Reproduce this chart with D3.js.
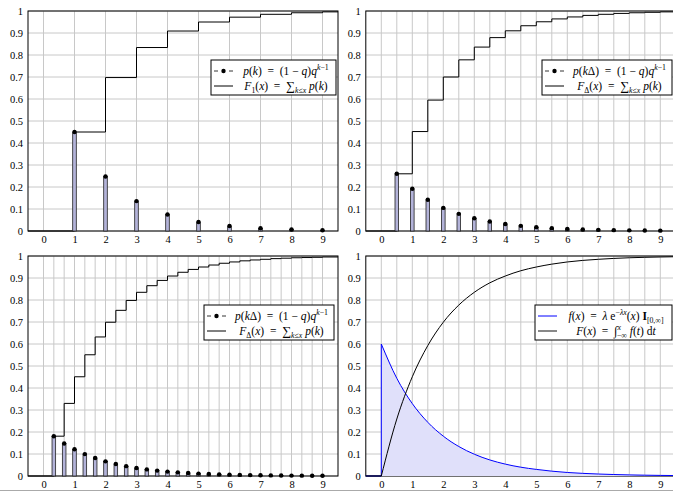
<!DOCTYPE html>
<html><head><meta charset="utf-8">
<script src="https://cdn.jsdelivr.net/npm/d3@7"></script>
<style>
html,body{margin:0;padding:0;background:#fff;}
svg{display:block;}
text{font-family:"Liberation Serif","Times New Roman","DejaVu Serif",serif;white-space:pre;}
</style></head>
<body><svg id="c" width="673" height="493"></svg>
<script>
// ---------- data ----------
const xTickLabels = [0,1,2,3,4,5,6,7,8,9];
const yTickLabels = [0,0.1,0.2,0.3,0.4,0.5,0.6,0.7,0.8,0.9,1];

// panel 1: Delta = 1
const x1 = [1,2,3,4,5,6,7,8,9];
const p1 = [0.45,0.2475,0.136,0.075,0.041,0.0226,0.0124,0.0068,0.0037];
const F1 = [0.45,0.6975,0.834,0.909,0.950,0.972,0.985,0.992,0.996];

// panel 2: Delta = 0.5
const x2 = [0.5,1,1.5,2,2.5,3,3.5,4,4.5,5,5.5,6,6.5,7,7.5,8,8.5,9];
const p2 = [0.26,0.192,0.142,0.105,0.078,0.058,0.043,0.032,0.0235,0.0174,0.0129,0.0095,0.007,0.0052,0.0039,0.0029,0.0021,0.0016];
const F2 = [0.26,0.452,0.595,0.700,0.778,0.836,0.879,0.910,0.933,0.951,0.964,0.973,0.980,0.985,0.989,0.992,0.994,0.996];

// panel 3: Delta = 1/3
const k3 = [1,2,3,4,5,6,7,8,9,10,11,12,13,14,15,16,17,18,19,20,21,22,23,24,25,26,27];
const delta3 = 1/3;
const p3 = [0.181,0.148,0.1215,0.0995,0.0815,0.0667,0.0546,0.0447,0.0366,0.030,0.0245,0.0201,0.0165,0.0135,0.011,0.009,0.0074,0.0061,0.005,0.0041,0.0033,0.0027,0.0022,0.0018,0.0015,0.0012,0.001];
const F3 = [0.181,0.330,0.451,0.551,0.632,0.699,0.753,0.798,0.835,0.865,0.889,0.909,0.926,0.939,0.950,0.959,0.967,0.973,0.978,0.982,0.985,0.988,0.990,0.992,0.993,0.994,0.9955];

// panel 4: continuous density and cdf
const x4 = [0,0.5,1,1.5,2,2.5,3,3.5,4,4.5,5,5.5,6,6.5,7,7.5,8,8.5,9,9.5];
const f4 = [0.600,0.444,0.329,0.244,0.181,0.134,0.099,0.073,0.054,0.040,0.030,0.022,0.016,0.012,0.009,0.0067,0.005,0.0037,0.0027,0.002];
const Fc4 = [0,0.259,0.451,0.593,0.699,0.777,0.835,0.878,0.909,0.933,0.950,0.963,0.973,0.980,0.985,0.989,0.992,0.994,0.9955,0.9967];

// ---------- layout ----------
const W = 310, H = 220;
const svg = d3.select('#c');

function mathText(g, x, y, parts, anchor){
  const t = g.append('text').attr('x',x).attr('y',y).attr('font-size',11.5)
    .attr('text-anchor',anchor||'middle').attr('fill','#000');
  let cur = 0;
  parts.forEach(p=>{
    const want = p.s==='sup' ? -4.5 : (p.s==='sub' ? 3 : 0);
    const ts = t.append('tspan').text(p.t).attr('dy', want-cur);
    if(p.dx) ts.attr('dx', p.dx);
    cur = want;
    if(p.i) ts.attr('font-style','italic');
    if(p.b) ts.attr('font-weight','bold');
    if(p.s) ts.attr('font-size',7.8);
    if(p.fs) ts.attr('font-size',p.fs);
  });
  return t;
}

const legP1 = [{t:'p',i:1},{t:'('},{t:'k',i:1},{t:')  =  (1 − '},{t:'q',i:1},{t:')'},{t:'q',i:1},{t:'k',i:1,s:'sup'},{t:'−1',s:'sup'}];
const legPD = [{t:'p',i:1},{t:'('},{t:'k',i:1},{t:'Δ)  =  (1 − '},{t:'q',i:1},{t:')'},{t:'q',i:1},{t:'k',i:1,s:'sup'},{t:'−1',s:'sup'}];
const legF1 = [{t:'F',i:1},{t:'1',s:'sub'},{t:'('},{t:'x',i:1},{t:')  =  '},{t:'∑',fs:12.5},{t:'k',i:1,s:'sub'},{t:'≤',s:'sub'},{t:'x',i:1,s:'sub'},{t:' '},{t:'p',i:1},{t:'('},{t:'k',i:1},{t:')'}];
const legFD = [{t:'F',i:1},{t:'Δ',s:'sub'},{t:'('},{t:'x',i:1},{t:')  =  '},{t:'∑',fs:12.5},{t:'k',i:1,s:'sub'},{t:'≤',s:'sub'},{t:'x',i:1,s:'sub'},{t:' '},{t:'p',i:1},{t:'('},{t:'k',i:1},{t:')'}];
const legf4 = [{t:'f',i:1},{t:'('},{t:'x',i:1},{t:')  =  '},{t:'λ',i:1},{t:' e'},{t:'−',s:'sup'},{t:'λx',i:1,s:'sup'},{t:'('},{t:'x',i:1},{t:') '},{t:'I',b:1},{t:'[0,∞]',s:'sub'}];
const legF4 = [{t:'F',i:1},{t:'('},{t:'x',i:1},{t:')  =  '},{t:'∫',fs:12.5},{t:'x',i:1,s:'sup'},{t:'−∞',s:'sub',dx:-4},{t:' '},{t:'f',i:1},{t:'('},{t:'t',i:1},{t:') d'},{t:'t',i:1}];

const panels = [
  {left:28, top:11, xs:x1, p:p1, F:F1, grid:d3.range(0,9.001,1), leg:[legP1,legF1], legL:211, legR:336},
  {left:365.8, top:11, xs:x2, p:p2, F:F2, grid:d3.range(0,9.001,0.5), leg:[legPD,legFD], legL:542, legR:672},
  {left:28, top:256, xs:k3.map(k=>k*delta3), p:p3, F:F3, grid:d3.range(0,28).map(i=>i*delta3), leg:[legPD,legFD], legL:204, legR:334},
  {left:365.8, top:256, cont:true, grid:d3.range(0,9.001,0.5), leg:[legf4,legF4], legL:535, legR:672}
];

panels.forEach(P=>{
  const x = d3.scaleLinear().domain([-0.5,9.5]).range([P.left, P.left+W]);
  const y = d3.scaleLinear().domain([0,1]).range([P.top+H, P.top]);
  const g = svg.append('g');
  // grid
  g.selectAll('.gx').data(P.grid).enter().append('line')
    .attr('x1',d=>x(d)).attr('x2',d=>x(d)).attr('y1',y(0)).attr('y2',y(1))
    .attr('stroke','#c8c8c8').attr('stroke-width',1);
  g.selectAll('.gy').data(yTickLabels).enter().append('line')
    .attr('x1',x(-0.5)).attr('x2',x(9.5)).attr('y1',d=>y(d)).attr('y2',d=>y(d))
    .attr('stroke','#c8c8c8').attr('stroke-width',1);
  // frame
  g.append('rect').attr('x',x(-0.5)).attr('y',y(1)).attr('width',W).attr('height',H)
    .attr('fill','none').attr('stroke','#000').attr('stroke-width',1);
  // tick labels
  const xAxis = d3.axisBottom(x).tickValues(xTickLabels).tickFormat(d3.format('d')).tickSize(0).tickPadding(5);
  const ax = g.append('g').attr('transform',`translate(0,${y(0)})`).call(xAxis);
  ax.attr('font-family',null);
  ax.select('.domain').remove();
  ax.selectAll('text').attr('font-size',10.5).attr('fill','#000');
  const yAxis = d3.axisLeft(y).tickValues(yTickLabels).tickFormat(d=>d===0?'0':(d===1?'1':d3.format('.1f')(d))).tickSize(0).tickPadding(5);
  const ay = g.append('g').attr('transform',`translate(${x(-0.5)},0)`).call(yAxis);
  ay.attr('font-family',null);
  ay.select('.domain').remove();
  ay.selectAll('text').attr('font-size',10.5).attr('fill','#000');

  if(!P.cont){
    // step cdf
    const pts = [[-0.5,0]].concat(P.xs.map((v,i)=>[v,P.F[i]])).concat([[9.5,P.F[P.F.length-1]]]);
    g.append('path').attr('d', d3.line().x(d=>x(d[0])).y(d=>y(d[1])).curve(d3.curveStepAfter)(pts))
      .attr('fill','none').attr('stroke','#000').attr('stroke-width',1);
    // stems
    g.selectAll('.st').data(P.xs).enter().append('rect')
      .attr('x',d=>x(d)-1.8).attr('width',3.6)
      .attr('y',(d,i)=>y(P.p[i])).attr('height',(d,i)=>y(0)-y(P.p[i]))
      .attr('fill','#b3b3d9').attr('stroke','#222').attr('stroke-width',0.8);
    g.selectAll('.dt').data(P.xs).enter().append('circle')
      .attr('cx',d=>x(d)).attr('cy',(d,i)=>y(P.p[i])).attr('r',2.2).attr('fill','#000');
  } else {
    const area = d3.area().x((d,i)=>x(x4[i])).y0(y(0)).y1((d,i)=>y(f4[i])).curve(d3.curveMonotoneX);
    g.append('path').attr('d',area(f4)).attr('fill','#e0e0fa').attr('stroke','none');
    const lf = d3.line().x((d,i)=>x(x4[i])).y((d,i)=>y(f4[i])).curve(d3.curveMonotoneX);
    g.append('path').attr('d', `M${x(-0.5)},${y(0)}L${x(0)},${y(0)}` + lf(f4).replace(/^M/,'L'))
      .attr('fill','none').attr('stroke','#0000ff').attr('stroke-width',1);
    const lF = d3.line().x((d,i)=>x(x4[i])).y((d,i)=>y(Fc4[i])).curve(d3.curveMonotoneX);
    g.append('path').attr('d', `M${x(-0.5)},${y(0)}` + lF(Fc4).replace(/^M/,'L'))
      .attr('fill','none').attr('stroke','#000').attr('stroke-width',1);
  }

  // legend
  const ly = P.top + 49;
  const lh = 35;
  g.append('rect').attr('x',P.legL).attr('y',ly).attr('width',P.legR-P.legL).attr('height',lh)
    .attr('fill','#fff').attr('stroke','#000').attr('stroke-width',1);
  const sx0 = P.legL+3, sx1 = P.legL+22;
  const r1 = ly+11, r2 = ly+26;
  if(!P.cont){
    [[sx0, sx0+4],[sx1-4, sx1]].forEach(s=>{
      g.append('line').attr('x1',s[0]).attr('x2',s[1]).attr('y1',r1).attr('y2',r1)
        .attr('stroke','#000').attr('stroke-width',0.8);
    });
    g.append('circle').attr('cx',(sx0+sx1)/2).attr('cy',r1).attr('r',2.2).attr('fill','#000');
    g.append('line').attr('x1',sx0).attr('x2',sx1).attr('y1',r2).attr('y2',r2)
      .attr('stroke','#000').attr('stroke-width',1);
  } else {
    g.append('line').attr('x1',sx0).attr('x2',sx1).attr('y1',r1).attr('y2',r1)
      .attr('stroke','#0000ff').attr('stroke-width',1);
    g.append('line').attr('x1',sx0).attr('x2',sx1).attr('y1',r2).attr('y2',r2)
      .attr('stroke','#555').attr('stroke-width',1.4);
  }
  const cx = (P.legL+25 + P.legR)/2;
  mathText(g, cx, r1+3.5, P.leg[0]);
  mathText(g, cx, r2+3.5, P.leg[1]);
});

// bottom page edge line
svg.append('line').attr('x1',0).attr('x2',673).attr('y1',490.5).attr('y2',490.5)
  .attr('stroke','#aaa').attr('stroke-width',1);
</script></body></html>
